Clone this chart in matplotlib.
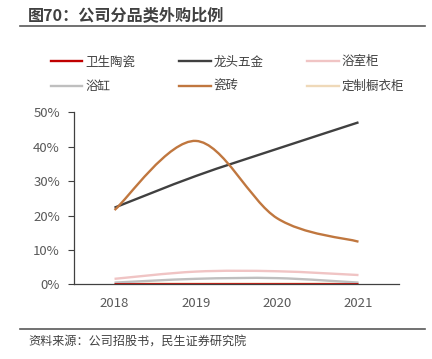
import numpy as np
import matplotlib
matplotlib.use("Agg")
import matplotlib.pyplot as plt
from matplotlib.path import Path
from matplotlib.patches import PathPatch
from matplotlib.lines import Line2D
from matplotlib.ticker import PercentFormatter

plt.rcParams['font.family'] = ['Noto Sans CJK SC', 'DejaVu Sans']

years = ['2018', '2019', '2020', '2021']
weisheng_taoci = [0.0, 0.0, 0.0, 0.0]        # 卫生陶瓷
longtou_wujin = [22.3, 31.5, 39.4, 47.1]     # 龙头五金
yushigui = [1.6, 3.7, 3.8, 2.7]              # 浴室柜
yugang = [0.5, 1.6, 1.8, 0.5]                # 浴缸
cizhuan = [21.6, 41.7, 19.2, 12.4]           # 瓷砖
dingzhi_chuyigui = [0.2, 0.2, 0.2, 0.2]      # 定制橱衣柜

series = [
    ('卫生陶瓷', weisheng_taoci, '#C00000'),
    ('浴缸', yugang, '#BFBFBF'),
    ('龙头五金', longtou_wujin, '#404040'),
    ('瓷砖', cizhuan, '#C0773F'),
    ('浴室柜', yushigui, '#F0C4C4'),
    ('定制橱衣柜', dingzhi_chuyigui, '#EFD9B9'),
]
draw_order = [5, 1, 4, 0, 2, 3]


def smooth_path(x, y, t=1 / 6):
    # excel style smoothed line as cubic bezier segments
    x = np.asarray(x, float)
    y = np.asarray(y, float)
    n = len(x)
    verts = [(x[0], y[0])]
    codes = [Path.MOVETO]
    for i in range(n - 1):
        p0 = i - 1 if i > 0 else i
        p3 = i + 2 if i + 2 < n else i + 1
        c1 = (x[i] + (x[i + 1] - x[p0]) * t, y[i] + (y[i + 1] - y[p0]) * t)
        c2 = (x[i + 1] - (x[p3] - x[i]) * t, y[i + 1] - (y[p3] - y[i]) * t)
        verts += [c1, c2, (x[i + 1], y[i + 1])]
        codes += [Path.CURVE4] * 3
    return Path(verts, codes)


fig = plt.figure(figsize=(4.32, 3.59), dpi=100)
ax = fig.add_axes([0.171, 0.208, 0.753, 0.479])

xpos = np.arange(len(years))
for k in draw_order:
    name, vals, col = series[k]
    ax.add_patch(PathPatch(smooth_path(xpos, vals), facecolor='none',
                           edgecolor=col, lw=1.7, capstyle='butt'))

ax.set_xlim(-0.5, 3.5)
ax.set_ylim(0, 50)
ax.set_yticks([0, 10, 20, 30, 40, 50])
ax.yaxis.set_major_formatter(PercentFormatter(decimals=0))
ax.set_xticks(xpos)
ax.set_xticklabels(years)
for s in ['top', 'right']:
    ax.spines[s].set_visible(False)
for s in ['left', 'bottom']:
    ax.spines[s].set_color('#404040')
    ax.spines[s].set_linewidth(0.9)
ax.tick_params(axis='y', colors='#404040', labelcolor='#595959', labelsize=9.5, length=4, pad=6)
ax.tick_params(axis='x', length=0, labelcolor='#595959', labelsize=9.5, pad=9)

handles = [Line2D([], [], color=c, lw=1.7) for _, _, c in series]
labels = [n for n, _, _ in series]
fig.legend(handles, labels, ncol=3, loc='center left', bbox_to_anchor=(0.091, 0.793),
           frameon=False, fontsize=9, handlelength=2.55, handletextpad=0.25,
           columnspacing=3.45, labelcolor='#404040', labelspacing=0.95)

fig.text(0.065, 0.958, '图70：公司分品类外购比例', fontsize=11.6, fontweight='bold',
         color='#404040', va='center')
fig.add_artist(Line2D([0.046, 0.984], [0.927, 0.927], color='#595959', lw=1.2))
fig.add_artist(Line2D([0.046, 0.984], [0.083, 0.083], color='#595959', lw=1.2))
fig.text(0.065, 0.048, '资料来源：公司招股书，民生证券研究院', fontsize=8.7,
         color='#404040', va='center')

fig.savefig('out.png', dpi=100)
